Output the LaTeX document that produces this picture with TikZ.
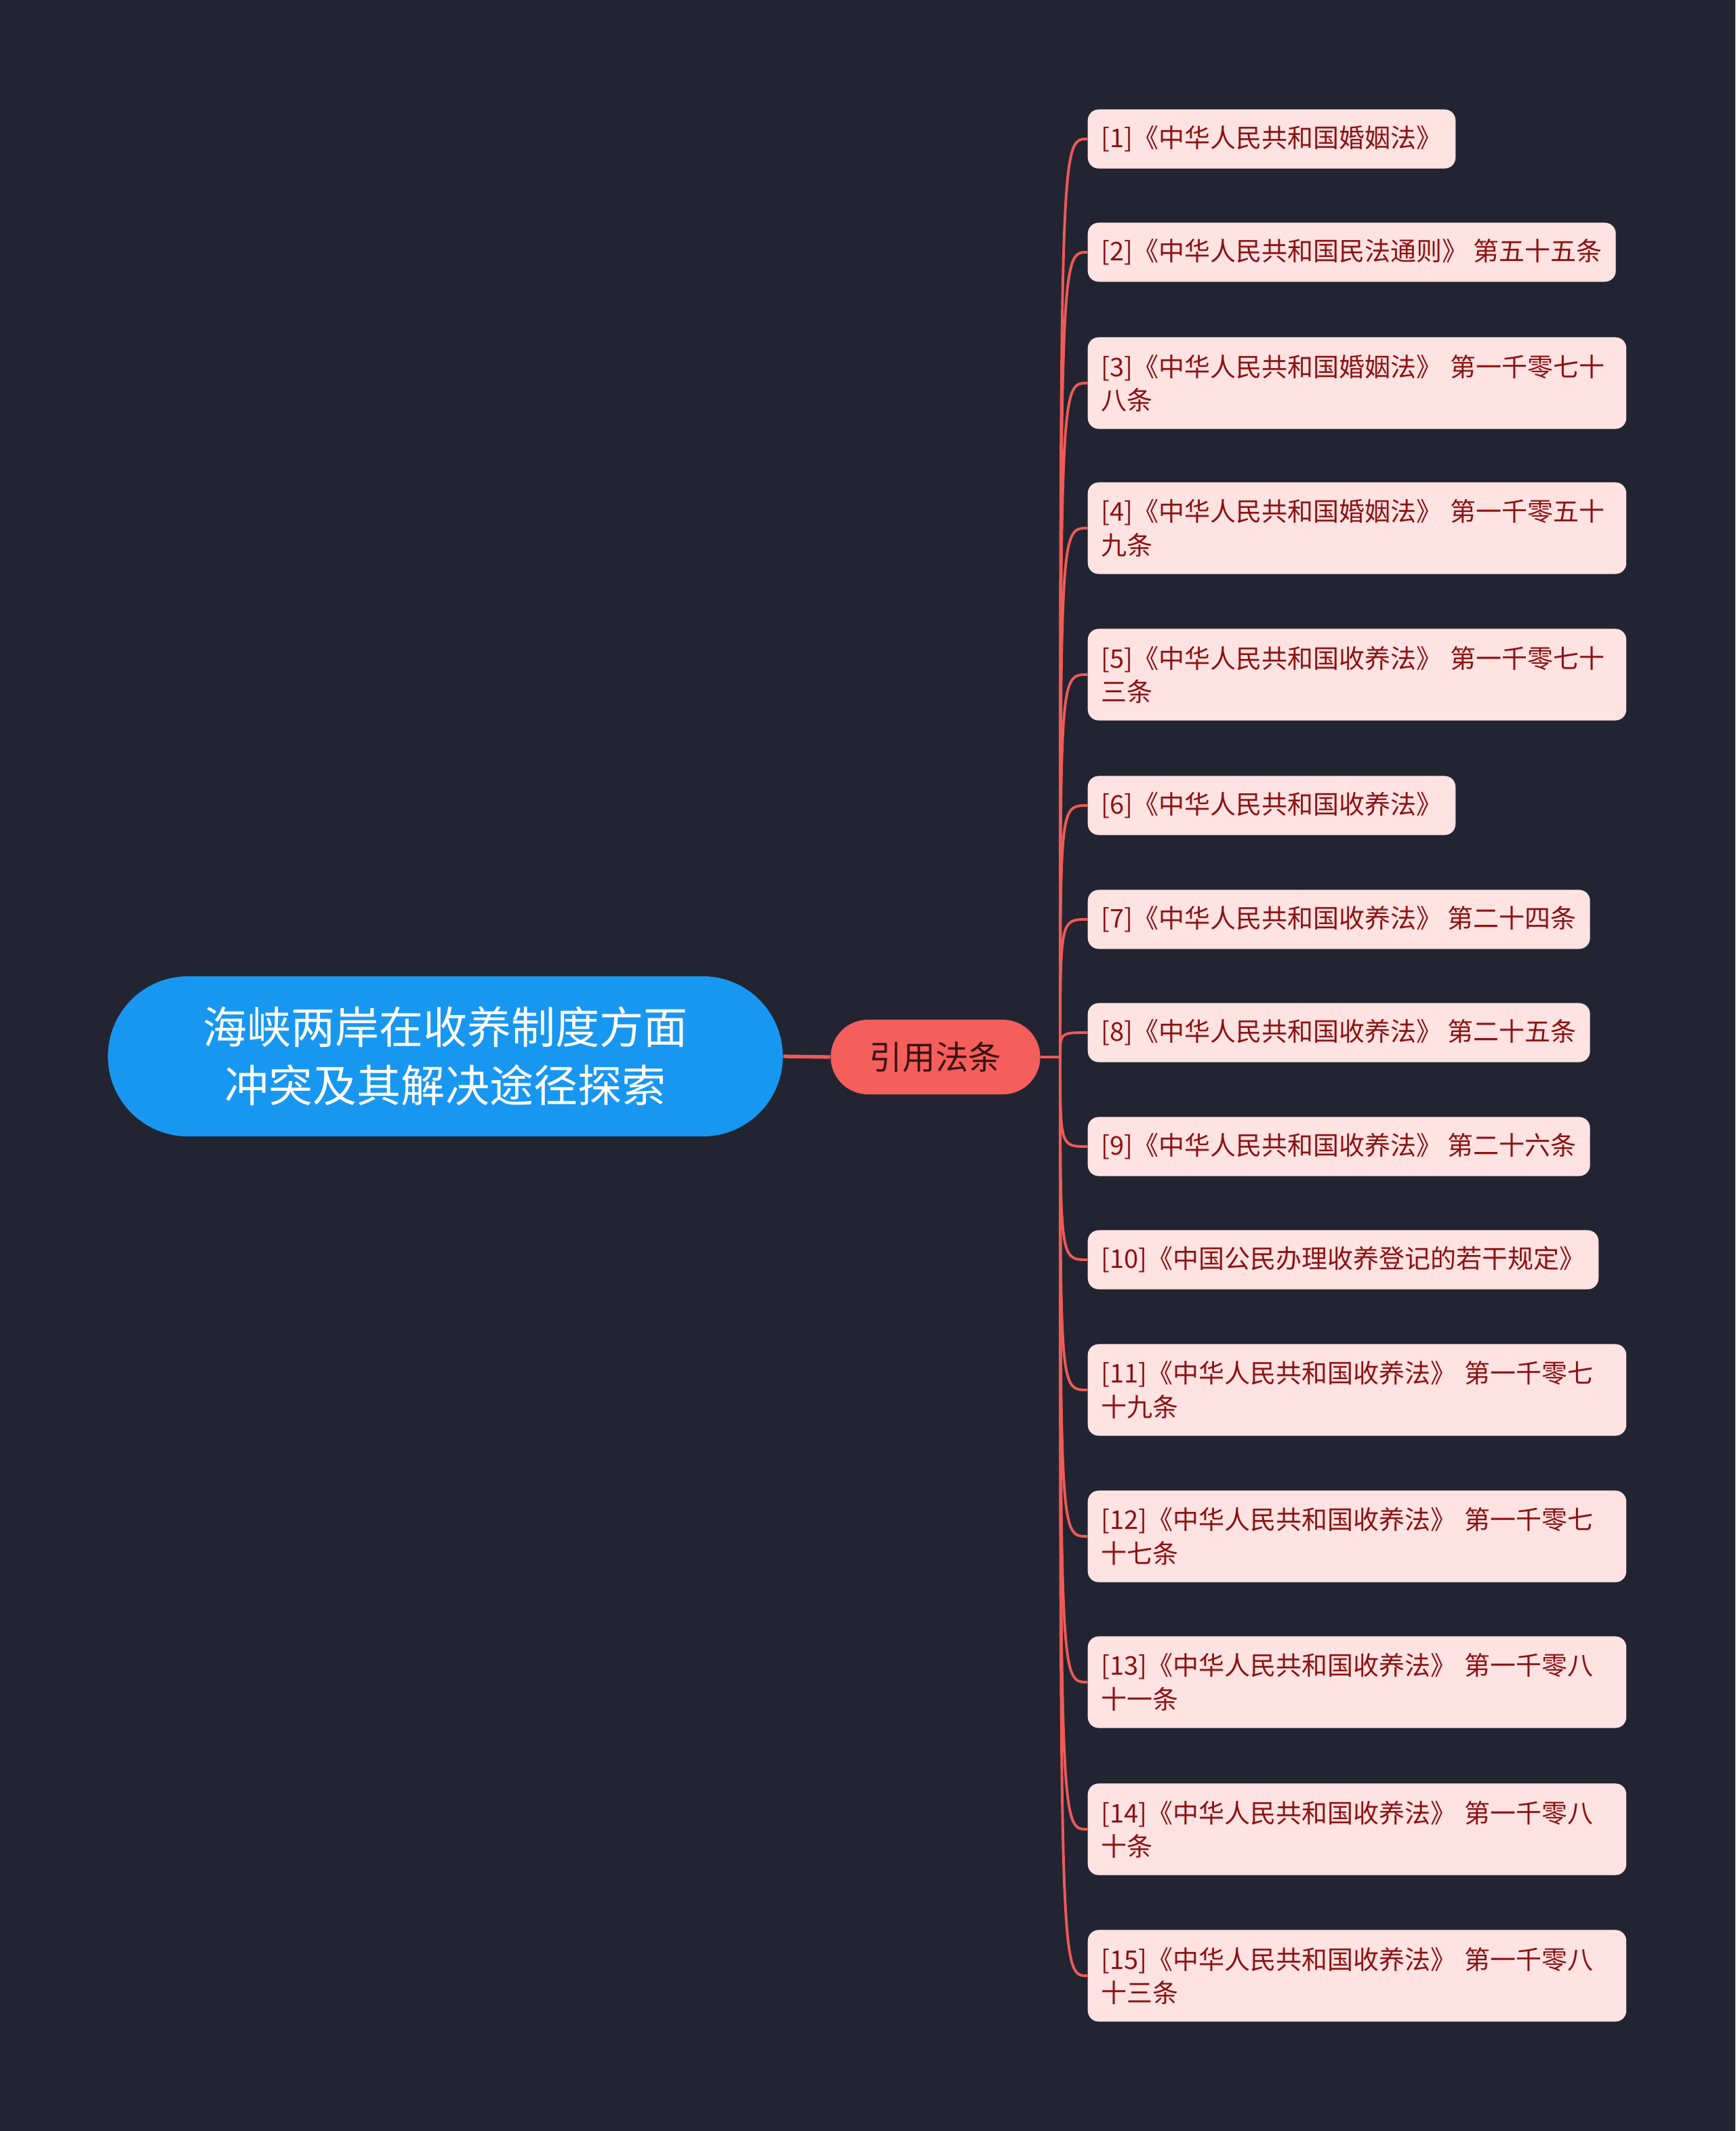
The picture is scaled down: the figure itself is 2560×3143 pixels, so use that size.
\documentclass[tikz,border=0pt]{standalone}
\usepackage{fontspec}
\setmainfont{Noto Sans CJK SC}
\definecolor{bgc}{RGB}{34,37,49}
\definecolor{rootc}{RGB}{24,151,240}
\definecolor{midc}{RGB}{244,94,91}
\definecolor{leafc}{RGB}{255,226,226}
\definecolor{leaftext}{RGB}{139,18,18}
\definecolor{midtext}{RGB}{58,18,18}
\definecolor{edgec}{RGB}{240,90,87}
\begin{document}
\begin{tikzpicture}[x=0.01cm,y=-0.01cm,
    rootbox/.style={fill=rootc,text=white,rounded corners=1.18cm,minimum width=9.95cm,
        minimum height=2.36cm,align=center,font=\fontsize{18.5}{24.5}\selectfont},
    midbox/.style={fill=midc,text=midtext,rounded corners=0.55cm,minimum width=3.09cm,
        minimum height=1.1cm,font=\fontsize{13.8}{16}\selectfont},
    leaf/.style={anchor=west,fill=leafc,text=leaftext,rounded corners=0.16cm,
        inner xsep=0.2cm,inner ysep=0pt,minimum height=0.87cm,align=left,
        font=\fontsize{10.8}{14}\selectfont},
    wide/.style={leaf,text width=7.54cm,minimum height=1.35cm},
    edge/.style={draw=edgec,line width=1.1pt}]
    \fill[bgc] (0,0) rectangle (2560,3143);
    \node[rootbox] (root) at (657,1558) {海峡两岸在收养制度方面\\冲突及其解决途径探索};
    \node[midbox] (ref) at (1380,1559) {引用法条};
    \draw[edge,line width=1.5pt] (root.east) -- (ref.west);
    \coordinate (hub) at (1564,1559);
    \draw[edge] (ref.east) -- (hub);
    \node[leaf] (c1) at (1604,205) {[1]《中华人民共和国婚姻法》};
    \node[leaf] (c2) at (1604,372) {[2]《中华人民共和国民法通则》 第五十五条};
    \node[wide] (c3) at (1604,565) {[3]《中华人民共和国婚姻法》 第一千零七十\\八条};
    \node[wide] (c4) at (1604,779) {[4]《中华人民共和国婚姻法》 第一千零五十\\九条};
    \node[wide] (c5) at (1604,995) {[5]《中华人民共和国收养法》 第一千零七十\\三条};
    \node[leaf] (c6) at (1604,1188) {[6]《中华人民共和国收养法》};
    \node[leaf] (c7) at (1604,1356) {[7]《中华人民共和国收养法》 第二十四条};
    \node[leaf] (c8) at (1604,1523) {[8]《中华人民共和国收养法》 第二十五条};
    \node[leaf] (c9) at (1604,1691) {[9]《中华人民共和国收养法》 第二十六条};
    \node[leaf] (c10) at (1604,1858) {[10]《中国公民办理收养登记的若干规定》};
    \node[wide] (c11) at (1604,2050) {[11]《中华人民共和国收养法》 第一千零七\\十九条};
    \node[wide] (c12) at (1604,2266) {[12]《中华人民共和国收养法》 第一千零七\\十七条};
    \node[wide] (c13) at (1604,2481) {[13]《中华人民共和国收养法》 第一千零八\\十一条};
    \node[wide] (c14) at (1604,2698) {[14]《中华人民共和国收养法》 第一千零八\\十条};
    \node[wide] (c15) at (1604,2914) {[15]《中华人民共和国收养法》 第一千零八\\十三条};
    \foreach \i in {1,...,15}
        \draw[edge] (hub) .. controls (hub |- c\i.west) .. (c\i.west);
\end{tikzpicture}
\end{document}
